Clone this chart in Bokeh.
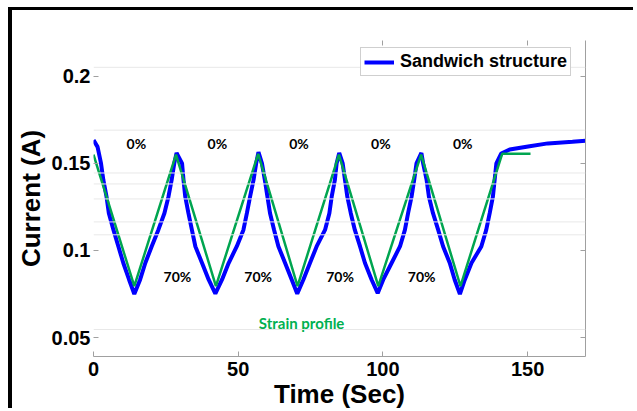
from bokeh.plotting import figure
from bokeh.models import FixedTicker, LinearAxis, Range1d, Legend, LegendItem, Span
from bokeh.core.properties import value
from bokeh.embed import file_html
from bokeh.resources import INLINE

# Sandwich structure current (A) vs time (s)
time_blue = [0, 1.4, 2.6, 3.4, 4.5, 5.3, 6.9, 8.6, 10.3, 12.3, 14.1,
             16.1, 17.9, 20.1, 22.4, 24.5, 25.9, 27.0, 27.9, 28.7,
             30.6, 31.1, 31.7, 32.8, 34.0, 35.2, 37.5, 39.8, 42.1,
             44.4, 46.7, 49.5, 51.8, 53.0, 54.1, 55.3, 56.2, 57.0,
             58.2, 59.2, 60.1, 61.0, 62.4, 63.9, 66.2, 68.5, 70.4,
             72.5, 74.8, 77.1, 80.0, 81.5, 82.3, 83.4, 84.0, 84.9,
             86.1, 86.9, 87.7, 88.9, 90.3, 92.1, 93.8, 96.1, 98.2,
             100.1, 103.0, 105.9, 107.6, 108.7, 109.9, 110.8, 111.6, 113.3,
             113.9, 115.1, 115.9, 117.3, 119.1, 120.8, 123.1, 124.8, 126.6,
             128.3, 130.6, 134.0, 135.7, 136.9, 138.0, 138.6, 139.2, 140.9,
             143.8, 150.7, 157.0, 165.5, 170.0]
current_blue = [0.1634, 0.1595, 0.150, 0.1405, 0.1309, 0.1214, 0.1118, 0.1023, 0.0928, 0.0832, 0.0750,
                0.0832, 0.0928, 0.1023, 0.1118, 0.1214, 0.1309, 0.1405, 0.150, 0.1560,
                0.150, 0.1405, 0.1309, 0.1214, 0.1118, 0.1023, 0.0928, 0.0832, 0.0752,
                0.0832, 0.0928, 0.1023, 0.1118, 0.1214, 0.1309, 0.1405, 0.150, 0.1565,
                0.150, 0.1405, 0.1309, 0.1214, 0.1118, 0.1023, 0.0928, 0.0832, 0.0752,
                0.0832, 0.0928, 0.1023, 0.1118, 0.1214, 0.1309, 0.1405, 0.150, 0.1560,
                0.150, 0.1405, 0.1309, 0.1214, 0.1118, 0.1023, 0.0928, 0.0832, 0.0755,
                0.0832, 0.0928, 0.1023, 0.1118, 0.1214, 0.1309, 0.1405, 0.150, 0.1560,
                0.150, 0.1405, 0.1309, 0.1214, 0.1118, 0.1023, 0.0928, 0.0832, 0.0750,
                0.0832, 0.0928, 0.1023, 0.1118, 0.1214, 0.1309, 0.1405, 0.150, 0.1557,
                0.1580, 0.1599, 0.1615, 0.1624, 0.1630]

# Strain profile (drawn on the current scale)
time_strain = [0, 14.1, 28.5, 42.3, 56.9, 70.5, 84.8, 98.4, 113.2, 126.8, 141.2, 151.0]
strain_curve = [0.155, 0.0795, 0.155, 0.0795, 0.1555, 0.0795, 0.155, 0.0795, 0.155, 0.0795, 0.1555, 0.1555]

x_ticks = [0, 50, 100, 150]
y_ticks = [0.05, 0.1, 0.15, 0.2]
y_tick_labels = ["0.05", "0.1", "0.15", "0.2"]

pct0_times = [14.8, 42.8, 71.0, 99.3, 127.6]
pct0_level = 0.1616
pct70_times = [29.0, 56.9, 85.2, 113.4]
pct70_level = 0.0851
strain_label_pos = (71.9, 0.0586)

faint_lines = [0.2052, 0.1691, 0.1445, 0.1382, 0.1296, 0.1164, 0.109, 0.0546]

AX = "#a0a0a0"
FONT = "Liberation Sans"

p = figure(width=625, height=401, x_range=Range1d(0, 170), y_range=Range1d(0.0391, 0.2206),
           output_backend="svg", toolbar_location=None,
           min_border_left=81, min_border_right=52, min_border_top=30, min_border_bottom=54)
p.styles = {"margin-left": "8px", "margin-top": "7px",
            "border-left": "4px solid black", "border-top": "3px solid black"}
p.outline_line_color = None
p.xgrid.visible = False
p.ygrid.visible = False
p.background_fill_color = "white"
p.border_fill_color = "white"

for v in faint_lines:
    p.add_layout(Span(location=v, dimension="width", line_color="#e8e8e8", line_width=1))

xa = p.xaxis[0]
xa.ticker = FixedTicker(ticks=x_ticks)
xa.axis_line_color = AX
xa.major_tick_line_color = AX
xa.major_tick_in = 5
xa.major_tick_out = 0
xa.minor_tick_line_color = None
xa.major_label_text_font = FONT
xa.major_label_text_font_style = "bold"
xa.major_label_text_font_size = "20px"
xa.major_label_text_color = "black"
xa.major_label_standoff = 5
xa.axis_label = "Time (Sec)"
xa.axis_label_text_font = FONT
xa.axis_label_text_font_style = "bold"
xa.axis_label_text_font_size = "26px"
xa.axis_label_text_color = "black"
xa.axis_label_standoff = 0

ya = p.yaxis[0]
ya.ticker = FixedTicker(ticks=y_ticks)
ya.major_label_overrides = {t: s for t, s in zip(y_ticks, y_tick_labels)}
ya.axis_line_color = None
ya.major_tick_line_color = AX
ya.major_tick_in = 5
ya.major_tick_out = 0
ya.minor_tick_line_color = None
ya.major_label_text_font = FONT
ya.major_label_text_font_style = "bold"
ya.major_label_text_font_size = "20px"
ya.major_label_text_color = "black"
ya.major_label_standoff = 3
ya.axis_label = "Current (A)"
ya.axis_label_text_font = FONT
ya.axis_label_text_font_style = "bold"
ya.axis_label_text_font_size = "26px"
ya.axis_label_text_color = "black"
ya.axis_label_standoff = 3

ra = LinearAxis(ticker=FixedTicker(ticks=y_ticks), axis_line_color=AX, major_tick_line_color=AX,
                major_tick_in=5, major_tick_out=0, minor_tick_line_color=None,
                major_label_text_color=None)
p.add_layout(ra, "right")
ta = LinearAxis(ticker=FixedTicker(ticks=[100, 150]), axis_line_color=None, major_tick_line_color=AX,
                major_tick_in=5, major_tick_out=0, minor_tick_line_color=None,
                major_label_text_color=None)
p.add_layout(ta, "above")

blue = p.line(time_blue, current_blue, line_color="#0000ff", line_width=4)
p.line(time_strain, strain_curve, line_color="#00a550", line_width=2.5)

p.text(x=pct0_times, y=[pct0_level] * len(pct0_times), text=["0%"] * len(pct0_times),
       text_font=value("Lato"), text_font_style="bold", text_font_size="14px",
       text_color="black", text_align="center", text_baseline="middle")
p.text(x=pct70_times, y=[pct70_level] * len(pct70_times), text=["70%"] * len(pct70_times),
       text_font=value("Lato"), text_font_style="bold", text_font_size="14px",
       text_color="black", text_align="center", text_baseline="middle")
p.text(x=[strain_label_pos[0]], y=[strain_label_pos[1]], text=["Strain profile"],
       text_font=value("Lato"), text_font_style="bold", text_font_size="15px",
       text_color="#00b050", text_align="center", text_baseline="middle")

legend = Legend(items=[LegendItem(label="Sandwich structure", renderers=[blue])],
                location=(267, 280), padding=3, margin=0, spacing=0,
                glyph_width=30, glyph_height=18, label_height=18, label_standoff=6,
                label_text_font=FONT, label_text_font_style="bold", label_text_font_size="18px",
                label_text_color="black", border_line_color=AX, border_line_width=1,
                background_fill_color="white", background_fill_alpha=1)
p.add_layout(legend)

open("out.html", "w").write(file_html(p, INLINE))
